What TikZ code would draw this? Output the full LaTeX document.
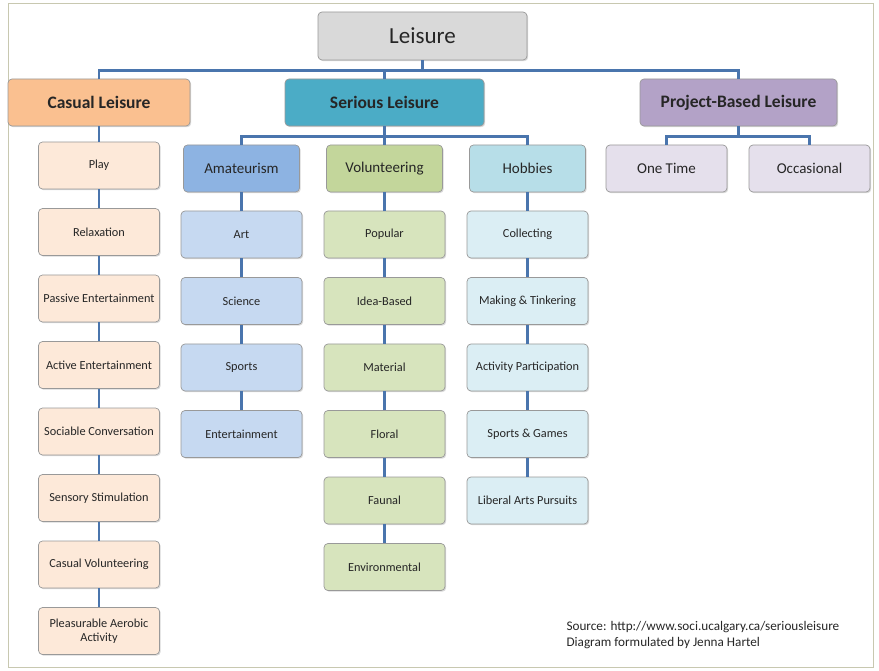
\documentclass[tikz,border=0pt]{standalone}
\usepackage{fontspec}
\setmainfont{Carlito}
\usetikzlibrary{positioning,shadows}
\definecolor{LeisGray}{HTML}{D9D9D9}
\definecolor{CasOrange}{HTML}{FAC090}
\definecolor{SerTeal}{HTML}{4BACC6}
\definecolor{ProjPurple}{HTML}{B3A2C7}
\definecolor{AmBlue}{HTML}{8DB3E2}
\definecolor{VolGreen}{HTML}{C3D69B}
\definecolor{HobBlue}{HTML}{B7DEE8}
\definecolor{ProjLight}{HTML}{E5E0EC}
\definecolor{CasLight}{HTML}{FDE9D9}
\definecolor{AmLight}{HTML}{C6D9F1}
\definecolor{VolLight}{HTML}{D7E4BD}
\definecolor{HobLight}{HTML}{DBEEF4}
\definecolor{LinkBlue}{HTML}{4A75AD}
\definecolor{FrameGray}{HTML}{C8C8B0}

\begin{document}
\begin{tikzpicture}[x=1pt,y=1pt,node distance=18.8pt,every node/.style={font=\fontsize{12.3}{14}\selectfont,align=center,text=black!85},base/.style={draw=black!40,line width=0.7pt,rounded corners=4pt,drop shadow={shadow xshift=1.2pt,shadow yshift=-1.2pt,opacity=0.3}},top/.style={base,fill=LeisGray,minimum width=209pt,minimum height=48pt,font=\fontsize{23}{27}\selectfont},main/.style={base,minimum height=47pt,font=\bfseries\fontsize{17.5}{20}\selectfont},sub/.style={base,minimum width=116pt,minimum height=47pt,font=\fontsize{15}{18}\selectfont},leaf/.style={base,minimum width=121pt,minimum height=47pt},link/.style={draw=LinkBlue,line width=2.4pt}]
\useasboundingbox (0,0) rectangle (879,-671);
\draw[FrameGray,line width=0.8pt] (8,-3) rectangle (873,-667);
% top levels
\node[top] (leis) at (422.5,-36) {Leisure};
\node[main,fill=CasOrange,minimum width=182pt] (cas) at (99,-102.5) {Casual Leisure};
\node[main,fill=SerTeal,minimum width=199pt] (ser) at (384.5,-102.5) {Serious Leisure};
\node[main,fill=ProjPurple,minimum width=197pt] (proj) at (738.5,-102.5) {Project-Based Leisure};
\node[sub,fill=AmBlue] (am) at (241.5,-168.5) {Amateurism};
\node[sub,fill=VolGreen] (vol) at (384.5,-168.5) {Volunteering};
\node[sub,fill=HobBlue] (hob) at (527.5,-168.5) {Hobbies};
\node[sub,fill=ProjLight,minimum width=121pt] (once) at (666.5,-168.5) {One Time};
\node[sub,fill=ProjLight,minimum width=121pt] (occ) at (809.5,-168.5) {Occasional};
% casual leisure
\node[leaf,fill=CasLight] (play) at (99,-165.5) {Play};
\node[leaf,fill=CasLight,below=of play] (relax) {Relaxation};
\node[leaf,fill=CasLight,below=of relax] (passive) {Passive Entertainment};
\node[leaf,fill=CasLight,below=of passive] (active) {Active Entertainment};
\node[leaf,fill=CasLight,below=of active] (talk) {Sociable Conversation};
\node[leaf,fill=CasLight,below=of talk] (sense) {Sensory Stimulation};
\node[leaf,fill=CasLight,below=of sense] (casvol) {Casual Volunteering};
\node[leaf,fill=CasLight,below=of casvol] (aero) {Pleasurable Aerobic\\Activity};
% amateurism
\node[leaf,fill=AmLight] (art) at (241.5,-234.5) {Art};
\node[leaf,fill=AmLight,below=of art] (sci) {Science};
\node[leaf,fill=AmLight,below=of sci] (sport) {Sports};
\node[leaf,fill=AmLight,below=of sport] (ent) {Entertainment};
% volunteering
\node[leaf,fill=VolLight] (pop) at (384.5,-234.5) {Popular};
\node[leaf,fill=VolLight,below=of pop] (idea) {Idea-Based};
\node[leaf,fill=VolLight,below=of idea] (mat) {Material};
\node[leaf,fill=VolLight,below=of mat] (flor) {Floral};
\node[leaf,fill=VolLight,below=of flor] (faun) {Faunal};
\node[leaf,fill=VolLight,below=of faun] (env) {Environmental};
% hobbies
\node[leaf,fill=HobLight] (coll) at (527.5,-234.5) {Collecting};
\node[leaf,fill=HobLight,below=of coll] (make) {Making \& Tinkering};
\node[leaf,fill=HobLight,below=of make] (part) {Activity Participation};
\node[leaf,fill=HobLight,below=of part] (games) {Sports \& Games};
\node[leaf,fill=HobLight,below=of games] (arts) {Liberal Arts Pursuits};
% links
\draw[link] (leis.south) -- ++(0,-10) coordinate (hub);
\draw[link] (cas.north) |- (hub) -| (proj.north);
\draw[link] (ser.north) -- (ser.north |- hub);
\draw[link] (ser.south) -- ++(0,-10) coordinate (serhub);
\draw[link] (am.north) |- (serhub) -| (hob.north);
\draw[link] (vol.north) -- (vol.north |- serhub);
\draw[link] (proj.south) -- ++(0,-10) coordinate (projhub);
\draw[link] (once.north) |- (projhub) -| (occ.north);
\draw[link] (cas)--(play);\draw[link] (play)--(relax);\draw[link] (relax)--(passive);\draw[link] (passive)--(active);
\draw[link] (active)--(talk);\draw[link] (talk)--(sense);\draw[link] (sense)--(casvol);\draw[link] (casvol)--(aero);
\draw[link] (am)--(art);\draw[link] (art)--(sci);\draw[link] (sci)--(sport);\draw[link] (sport)--(ent);
\draw[link] (vol)--(pop);\draw[link] (pop)--(idea);\draw[link] (idea)--(mat);\draw[link] (mat)--(flor);\draw[link] (flor)--(faun);\draw[link] (faun)--(env);
\draw[link] (hob)--(coll);\draw[link] (coll)--(make);\draw[link] (make)--(part);\draw[link] (part)--(games);\draw[link] (games)--(arts);
% source note
\node[anchor=north west,align=left,font=\fontsize{13.2}{16}\selectfont] (src) at (563,-618) {Source: http://www.soci.ucalgary.ca/seriousleisure\\Diagram formulated by Jenna Hartel};
\end{tikzpicture}
\end{document}
